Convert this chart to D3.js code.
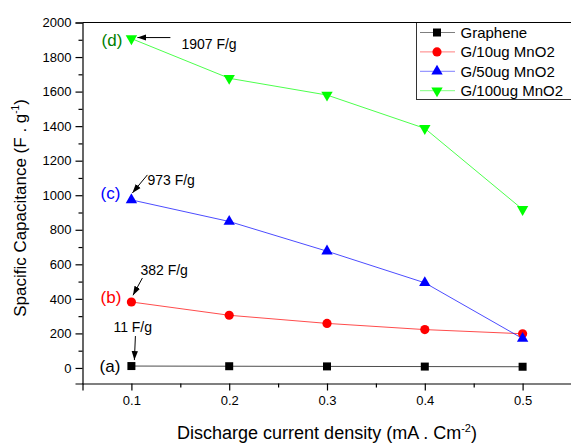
<!DOCTYPE html>
<html><head><meta charset="utf-8">
<script src="https://cdn.jsdelivr.net/npm/d3@7"></script>
<style>
html,body{margin:0;padding:0;background:#fff;}
svg{display:block;font-family:"Liberation Sans",Arial,sans-serif;}
</style></head>
<body><svg id="chart" width="571" height="444"></svg>
<script>
const currentDensity = [0.1, 0.2, 0.3, 0.4, 0.5];
const seriesNames = ["Graphene", "G/10ug MnO2", "G/50ug MnO2", "G/100ug MnO2"];
const graphene = [11, 10, 9, 8, 7];
const g10 = [382, 305, 258, 222, 198];
const g50 = [973, 848, 676, 493, 170];
const g100 = [1907, 1677, 1580, 1387, 918];
const xTickLabels = ["0.1", "0.2", "0.3", "0.4", "0.5"];
const yTickValues = [0, 200, 400, 600, 800, 1000, 1200, 1400, 1600, 1800, 2000];
const tagLabels = ["(a)", "(b)", "(c)", "(d)"];
const valueLabels = ["11 F/g", "382 F/g", "973 F/g", "1907 F/g"];

const colors = ["#000000", "#ff0000", "#0000ff", "#00ff00"];
const tagColors = ["#000000", "#ff0000", "#0000ff", "#008000"];
const symbols = [d3.symbolSquare, d3.symbolCircle, d3.symbolTriangle, "down"];
const allSeries = [graphene, g10, g50, g100];
const FONT = "'Liberation Sans', Arial, sans-serif";

const svg = d3.select("#chart");
const L = 82.5, R = 571.5, T = 22.5, B = 383.5;
const x = d3.scaleLinear().domain([0.05, 0.55]).range([L, R]);
const y = d3.scaleLinear().domain([-90, 2000]).range([B, T]);

// x axis
const xAxis = d3.axisBottom(x).tickValues(currentDensity).tickSize(7).tickPadding(5)
  .tickFormat((d, i) => xTickLabels[i]);
const gx = svg.append("g").attr("transform", `translate(0,${B})`).call(xAxis);
gx.selectAll(".tick line").attr("stroke-width", 1.2);
svg.append("g").attr("transform", `translate(0,${B})`)
  .call(d3.axisBottom(x).tickValues([0.15, 0.25, 0.35, 0.45]).tickSize(4).tickFormat(""))
  .call(g => g.select(".domain").remove())
  .selectAll(".tick line").attr("stroke-width", 1.2);
gx.select(".domain").attr("stroke-width", 1.2);
gx.selectAll("text").attr("font-size", 13).attr("fill", "#000").attr("font-family", FONT);

// y axis
const yAxis = d3.axisLeft(y).tickValues(yTickValues).tickSize(7).tickPadding(4).tickFormat(d3.format("d"));
const gy = svg.append("g").attr("transform", `translate(${L},0)`).call(yAxis);
gy.select(".domain").attr("stroke-width", 1.2);
gy.selectAll(".tick line").attr("stroke-width", 1.2);
gy.selectAll("text").attr("font-size", 13).attr("fill", "#000").attr("font-family", FONT);
svg.append("g").attr("transform", `translate(${L},0)`)
  .call(d3.axisLeft(y).tickValues(d3.range(100, 2000, 200)).tickSize(4).tickFormat(""))
  .call(g => g.select(".domain").remove())
  .selectAll(".tick line").attr("stroke-width", 1.2);

// axis titles
const xt = svg.append("text").attr("x", 327).attr("y", 439)
  .attr("text-anchor", "middle").attr("font-size", 18);
xt.append("tspan").text("Discharge current density (mA . Cm");
xt.append("tspan").attr("font-size", 11).attr("dy", -7).text("-2");
xt.append("tspan").attr("dy", 7).text(")");

const yt = svg.append("text").attr("transform", `translate(26,${(T + B) / 2 + 5}) rotate(-90)`)
  .attr("text-anchor", "middle").attr("font-size", 17);
yt.append("tspan").text("Spacific Capacitance (F . g");
yt.append("tspan").attr("font-size", 10).attr("dy", -7).text("-1");
yt.append("tspan").attr("dy", 7).text(")");

// symbols
function marker(sel, i, cx, cy) {
  const s = symbols[i];
  if (s === "down") {
    sel.append("path").attr("d", d3.symbol().type(d3.symbolTriangle).size(56)()).attr("fill", colors[i])
      .attr("transform", `translate(${cx},${cy}) rotate(180)`);
  } else {
    const size = s === d3.symbolSquare ? 64 : (s === d3.symbolCircle ? 66 : 56);
    sel.append("path").attr("d", d3.symbol().type(s).size(size)()).attr("fill", colors[i])
      .attr("transform", `translate(${cx},${cy})`);
  }
}

// lines and points
const line = d3.line().x((d, i) => x(currentDensity[i])).y(d => y(d));
allSeries.forEach((vals, i) => {
  svg.append("path").datum(vals).attr("d", line).attr("fill", "none")
    .attr("stroke", colors[i]).attr("stroke-width", 1).attr("stroke-opacity", 0.7);
});
allSeries.forEach((vals, i) => {
  const g = svg.append("g");
  vals.forEach((v, j) => marker(g, i, x(currentDensity[j]), y(v)));
});

// arrows
svg.append("defs").append("marker").attr("id", "ah").attr("viewBox", "0 0 10 10")
  .attr("refX", 10).attr("refY", 5).attr("markerWidth", 9).attr("markerHeight", 9)
  .attr("markerUnits", "userSpaceOnUse").attr("orient", "auto")
  .append("path").attr("d", "M0,1.5 L10,5 L0,8.5 Z").attr("fill", "#000");

// annotations: offsets relative to the first point of each series
const ann = [
  {tag: [-11, 6], arrow: [4, -30, 3, -6], text: [-18, -34]},
  {tag: [-10, 1], arrow: [11, -24, 1.6, -6.7], text: [9, -27]},
  {tag: [-11, -1], arrow: [16, -25, 1, -7], text: [16, -15]},
  {tag: [-9, 7], arrow: [39, -1, 6, -1], text: [50, 10]}
];
allSeries.forEach((vals, i) => {
  const px = x(currentDensity[0]), py = y(vals[0]);
  const a = ann[i];
  svg.append("text").attr("x", px + a.tag[0]).attr("y", py + a.tag[1])
    .attr("text-anchor", "end").attr("font-size", 17).attr("fill", tagColors[i]).text(tagLabels[i]);
  svg.append("line").attr("x1", px + a.arrow[0]).attr("y1", py + a.arrow[1])
    .attr("x2", px + a.arrow[2]).attr("y2", py + a.arrow[3])
    .attr("stroke", "#000").attr("stroke-width", 1).attr("marker-end", "url(#ah)");
  svg.append("text").attr("x", px + a.text[0]).attr("y", py + a.text[1])
    .attr("font-size", 14).attr("fill", "#000").text(valueLabels[i]);
});

// legend
const lg = svg.append("g");
lg.append("rect").attr("x", 416.5).attr("y", T).attr("width", 160).attr("height", 77)
  .attr("fill", "#fff").attr("stroke", "#333").attr("stroke-width", 1);
svg.append("line").attr("x1", L).attr("x2", 571).attr("y1", T).attr("y2", T)
  .attr("stroke", "#000").attr("stroke-width", 1.2);
seriesNames.forEach((name, i) => {
  const ly = 32.5 + i * 19.4;
  lg.append("line").attr("x1", 420).attr("x2", 455).attr("y1", ly).attr("y2", ly)
    .attr("stroke", colors[i]).attr("stroke-width", 1).attr("stroke-opacity", 0.5);
  marker(lg, i, 437, ly);
  lg.append("text").attr("x", 460.5).attr("y", ly + 5.5).attr("font-size", 15).text(name);
});
</script></body></html>
